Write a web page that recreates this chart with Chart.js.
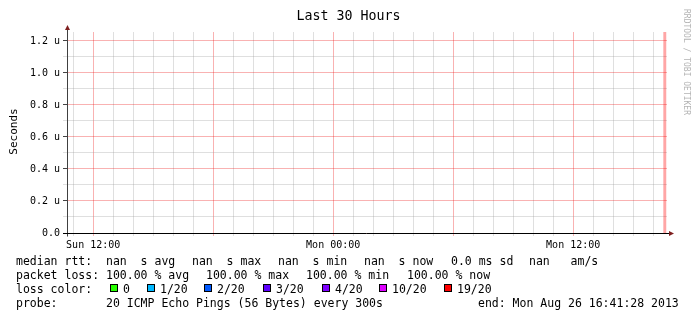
<!DOCTYPE html>
<html>
<head>
<meta charset="utf-8">
<title>Last 30 Hours</title>
<script src="https://cdn.jsdelivr.net/npm/chart.js@4.4.0/dist/chart.umd.min.js"></script>
<style>
  html, body { margin: 0; padding: 0; background: #fff; }
  canvas { display: block; }
</style>
</head>
<body>
<canvas id="smokeChart" width="697" height="321"></canvas>
<script>
var graphTitle = "Last 30 Hours";
var yAxisTitle = "Seconds";
var watermark = "RRDTOOL / TOBI OETIKER";
var graphEnd = "2013-08-26T16:41:28Z";
var spanHours = 30;
var stepSeconds = 300;

var xTickTimes = ["2013-08-25T12:00:00Z", "2013-08-26T00:00:00Z", "2013-08-26T12:00:00Z"];
var xTickLabels = ["Sun 12:00", "Mon 00:00", "Mon 12:00"];

// y values in microseconds
var yTickValues = [0, 0.2, 0.4, 0.6, 0.8, 1.0, 1.2];
var yTickLabels = ["0.0", "0.2 u", "0.4 u", "0.6 u", "0.8 u", "1.0 u", "1.2 u"];
var yTop = 1.256;

// samples with 19/20 loss, each one covers the step before it
var lossSampleTimes = ["2013-08-26T16:35:00Z", "2013-08-26T16:40:00Z"];
var lossSampleLevels = [1.256, 1.256];

var lossColorLabels = ["0", "1/20", "2/20", "3/20", "4/20", "10/20", "19/20"];
var lossColors = ["#26ff00", "#00b8ff", "#0059ff", "#5e00ff", "#7e00ff", "#dd00ff", "#ff0000"];

var legendRtt = ["median rtt:", "nan  s avg", "nan  s max", "nan  s min", "nan  s now", "0.0 ms sd", "nan   am/s"];
var legendLoss = ["packet loss:", "100.00 % avg", "100.00 % max", "100.00 % min", "100.00 % now"];
var legendProbe = ["probe:", "20 ICMP Echo Pings (56 Bytes) every 300s"];
var legendEnd = "end: Mon Aug 26 16:41:28 2013";

var startMs = Date.parse(graphEnd) - spanHours * 3600e3;
function hoursOf(t) {
  return (Date.parse(t) - startMs) / 3600e3;
}

var firstLabelHour = hoursOf(xTickTimes[0]);
var labelHours = xTickTimes.map(hoursOf);

var lossPoints = [];
lossSampleTimes.forEach(function (t, i) {
  if (i === 0) {
    lossPoints.push({ x: hoursOf(t) - stepSeconds / 3600, y: lossSampleLevels[i] });
  }
  lossPoints.push({ x: hoursOf(t), y: lossSampleLevels[i] });
});

var mono = '"DejaVu Sans Mono", monospace';
var minorGrid = "rgba(150,150,150,0.3)";
var majorGrid = "rgba(235,0,0,0.3)";

function isMajorX(v) {
  var d = (((v - firstLabelHour) % 6) + 6) % 6;
  return d < 0.01 || d > 5.99;
}
function isMajorY(v) {
  return yTickValues.some(function (m) { return Math.abs(m - v) < 1e-6; });
}

var rrdDecor = {
  id: "rrdDecor",
  afterDraw: function (chart) {
    var ctx = chart.ctx;
    var a = chart.chartArea;
    ctx.save();

    // title
    ctx.fillStyle = "#000";
    ctx.font = "13.3px " + mono;
    ctx.textAlign = "center";
    ctx.textBaseline = "alphabetic";
    ctx.fillText(graphTitle, 348.5, 20);

    // vertical label
    ctx.save();
    ctx.translate(14.5, 131.5);
    ctx.rotate(-Math.PI / 2);
    ctx.font = "11px " + mono;
    ctx.textBaseline = "middle";
    ctx.fillText(yAxisTitle, 0, 0);
    ctx.restore();

    // watermark
    ctx.save();
    ctx.translate(686.5, 62);
    ctx.rotate(Math.PI / 2);
    ctx.font = "8px " + mono;
    ctx.fillStyle = "#b4b4b4";
    ctx.textBaseline = "middle";
    ctx.fillText(watermark, 0, 0);
    ctx.restore();

    // axes
    var x0 = Math.round(a.left) + 0.5;
    var y0 = Math.round(a.bottom) + 0.5;
    ctx.lineWidth = 1;
    ctx.strokeStyle = "#404040";
    ctx.beginPath();
    ctx.moveTo(x0, y0 + 3);
    ctx.lineTo(x0, a.top - 3);
    ctx.stroke();
    ctx.strokeStyle = "#000";
    ctx.beginPath();
    ctx.moveTo(a.left - 4, y0);
    ctx.lineTo(a.right + 3, y0);
    ctx.stroke();

    ctx.fillStyle = "#7f1f1f";
    ctx.beginPath();
    ctx.moveTo(x0, a.top - 7);
    ctx.lineTo(x0 - 2.5, a.top - 2);
    ctx.lineTo(x0 + 2.5, a.top - 2);
    ctx.closePath();
    ctx.fill();
    ctx.beginPath();
    ctx.moveTo(a.right + 7, y0);
    ctx.lineTo(a.right + 2, y0 - 2.5);
    ctx.lineTo(a.right + 2, y0 + 2.5);
    ctx.closePath();
    ctx.fill();

    // legend
    ctx.fillStyle = "#000";
    ctx.font = "11.5px " + mono;
    ctx.textAlign = "left";
    ctx.textBaseline = "alphabetic";
    var rttX = [16, 106, 192, 278, 364, 451, 529];
    legendRtt.forEach(function (s, i) { ctx.fillText(s, rttX[i], 265); });
    var lossX = [16, 106, 206, 306, 407];
    legendLoss.forEach(function (s, i) { ctx.fillText(s, lossX[i], 279); });

    ctx.fillText("loss color:", 16, 293);
    var boxX = [110, 147, 204, 263, 322, 379, 444];
    lossColorLabels.forEach(function (s, i) {
      ctx.fillStyle = lossColors[i];
      ctx.fillRect(boxX[i], 284, 7, 7);
      ctx.strokeStyle = "#000";
      ctx.strokeRect(boxX[i] + 0.5, 284.5, 7, 7);
      ctx.fillStyle = "#000";
      ctx.fillText(s, boxX[i] + 13, 293);
    });

    ctx.fillText(legendProbe[0], 16, 307);
    ctx.fillText(legendProbe[1], 106, 307);
    ctx.fillText(legendEnd, 478, 307);
    ctx.restore();
  }
};

new Chart(document.getElementById("smokeChart").getContext("2d"), {
  type: "line",
  data: {
    datasets: [
      {
        label: "19/20",
        data: lossPoints,
        fill: "origin",
        stepped: "before",
        backgroundColor: "rgba(255,0,0,0.35)",
        borderWidth: 0,
        pointRadius: 0,
      },
    ],
  },
  options: {
    responsive: false,
    animation: false,
    devicePixelRatio: 1,
    layout: { padding: { top: 32, right: 30, bottom: 0, left: 0 } },
    plugins: {
      legend: { display: false },
      tooltip: { enabled: false },
      title: { display: false },
    },
    scales: {
      x: {
        type: "linear",
        min: 0,
        max: spanHours,
        border: { display: false },
        grid: {
          lineWidth: 1,
          tickLength: 3,
          color: function (c) { return c.tick && isMajorX(c.tick.value) ? majorGrid : minorGrid; },
          tickColor: function (c) { return c.tick && isMajorX(c.tick.value) ? majorGrid : minorGrid; },
        },
        ticks: {
          autoSkip: false,
          maxRotation: 0,
          padding: 3,
          color: "#000",
          font: { family: mono, size: 10 },
          callback: function (v) {
            for (var i = 0; i < labelHours.length; i++) {
              if (Math.abs(labelHours[i] - v) < 1e-6) return xTickLabels[i];
            }
            return "";
          },
        },
        afterBuildTicks: function (scale) {
          var ticks = [];
          var base = firstLabelHour - Math.floor(firstLabelHour);
          for (var k = 0; base + k <= spanHours; k++) ticks.push({ value: base + k });
          scale.ticks = ticks;
        },
        afterFit: function (scale) { scale.height = 88; },
      },
      y: {
        type: "linear",
        min: 0,
        max: yTop,
        border: { display: false },
        grid: {
          lineWidth: 1,
          tickLength: 4,
          color: function (c) { return c.tick && isMajorY(c.tick.value) ? majorGrid : minorGrid; },
          tickColor: function (c) { return c.tick && isMajorY(c.tick.value) ? "#444" : minorGrid; },
        },
        ticks: {
          padding: 3,
          color: "#000",
          font: { family: mono, size: 10 },
          callback: function (v) {
            for (var i = 0; i < yTickValues.length; i++) {
              if (Math.abs(yTickValues[i] - v) < 1e-6) return yTickLabels[i];
            }
            return "";
          },
        },
        afterBuildTicks: function (scale) {
          var ticks = [];
          yTickValues.forEach(function (v, i) {
            ticks.push({ value: v });
            if (i < yTickValues.length - 1) ticks.push({ value: (v + yTickValues[i + 1]) / 2 });
          });
          scale.ticks = ticks;
        },
        afterFit: function (scale) { scale.width = 67; },
      },
    },
  },
  plugins: [rrdDecor],
});
</script>
</body>
</html>
